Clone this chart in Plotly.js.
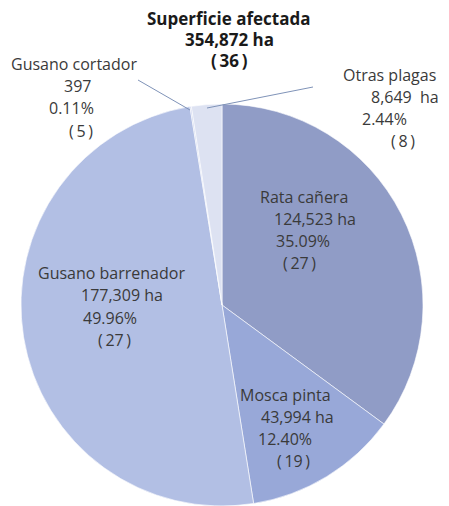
<!DOCTYPE html>
<html><head><meta charset="utf-8">
<script src="https://cdn.plot.ly/plotly-3.0.1.min.js"></script>
<style>html,body{margin:0;padding:0;background:#fff}#chart{width:449px;height:506px}</style>
</head><body><div id="chart"></div>
<script>
const categories = ["Rata cañera", "Mosca pinta", "Gusano barrenador", "Gusano cortador", "Otras plagas"];
const hectares = [124523, 43994, 177309, 397, 8649];
const haLabels = ["124,523 ha", "43,994 ha", "177,309 ha", "397", "8,649  ha"];
const percents = ["35.09%", "12.40%", "49.96%", "0.11%", "2.44%"];
const counts = ["(27)", "(19)", "(27)", "(5)", "(8)"];
const titleLines = ["Superficie afectada", "354,872 ha", "(36)"];
const colors = ["#909cc6", "#98a8d8", "#b2bfe4", "#c9d1ec", "#dde2f2"];

const W = 449, H = 506;
const px = x => x / W, py = y => 1 - y / H;
const FONT = "Open Sans, DejaVu Sans, sans-serif";
const TXT = "#3a3a3a";
const spaced = t => t.replace('(', '(\u2009').replace(')', '\u2009)');

// label line layouts (left x, center y) per category, lines: name, ha, pct, count
const labelPos = [
  [[259,197],[273,219],[275,241],[282,263]],
  [[239,395],[260,417],[257,439],[276,461]],
  [[37,273],[80,295],[82,318],[97,340]],
  [[10,64],[63,86],[48,108],[68,131]],
  [[342,75],[370,97],[361,119],[390,141]]
];

const annotations = [];
categories.forEach((c, i) => {
  const lines = [c, haLabels[i], percents[i], spaced(counts[i])];
  lines.forEach((t, j) => {
    const [x, y] = labelPos[i][j];
    annotations.push({xref:'paper', yref:'paper', x:px(x), y:py(y), xanchor:'left', yanchor:'middle',
      text:t, showarrow:false, borderpad:0, font:{family:FONT, size:16, color:TXT}});
  });
});
const titleY = [18, 40, 61];
titleLines.forEach((t, j) => {
  annotations.push({xref:'paper', yref:'paper', x:px(229), y:py(titleY[j]), xanchor:'center', yanchor:'middle',
    text:'<b>' + (j === 2 ? spaced(t) : t) + '</b>', showarrow:false, borderpad:0, font:{family:FONT, size:17, color:'#1a1a1a'}});
});

const shapes = [
  {type:'line', xref:'paper', yref:'paper', x0:px(138), y0:py(80), x1:px(190), y1:py(110), line:{color:'#7f93b8', width:1}},
  {type:'line', xref:'paper', yref:'paper', x0:px(313), y0:py(87), x1:px(207), y1:py(108), line:{color:'#7f93b8', width:1}}
];

const trace = {
  type:'pie', labels:categories, values:hectares, sort:false, direction:'clockwise', rotation:0,
  marker:{colors:colors, line:{color:'#ffffff', width:0.6}},
  textinfo:'none', hoverinfo:'label+value+percent',
  domain:{x:[px(20), px(424)], y:[0, py(104)]}
};

Plotly.newPlot('chart', [trace], {
  width:W, height:H, margin:{l:0, r:0, t:0, b:0}, showlegend:false,
  paper_bgcolor:'#fff', annotations:annotations, shapes:shapes
}, {displayModeBar:false, staticPlot:true});
</script></body></html>
